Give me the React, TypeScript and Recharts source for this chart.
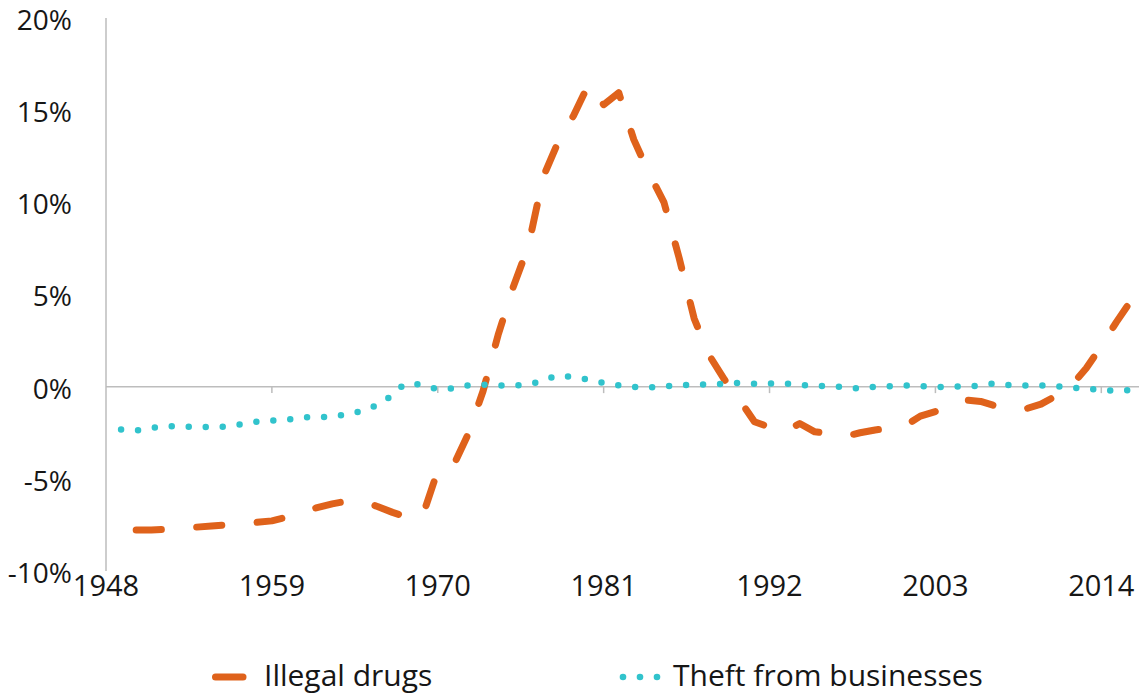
import React from "react";
import {
  LineChart,
  Line,
  XAxis,
  YAxis,
  ReferenceLine,
  Legend,
} from "recharts";

// years on the x axis (1948..2016)
const YEARS = [
  1948, 1949, 1950, 1951, 1952, 1953, 1954, 1955, 1956, 1957, 1958, 1959,
  1960, 1961, 1962, 1963, 1964, 1965, 1966, 1967, 1968, 1969, 1970, 1971,
  1972, 1973, 1974, 1975, 1976, 1977, 1978, 1979, 1980, 1981, 1982, 1983,
  1984, 1985, 1986, 1987, 1988, 1989, 1990, 1991, 1992, 1993, 1994, 1995,
  1996, 1997, 1998, 1999, 2000, 2001, 2002, 2003, 2004, 2005, 2006, 2007,
  2008, 2009, 2010, 2011, 2012, 2013, 2014, 2015, 2016,
];

// % values
const DRUGS = [
  null, null, -7.78, -7.78, -7.74, -7.68, -7.62, -7.56, -7.5, -7.43, -7.36, -7.28,
  -7.08, -6.82, -6.56, -6.36, -6.2, -6.24, -6.5, -6.82, -7.1, -7.0, -4.55, -4.35,
  -2.6, -0.25, 2.8, 5.4, 7.6, 11.4, 13.3, 14.7, 16.4, 15.3, 15.95, 13.4,
  11.6, 10.0, 7.0, 3.7, 1.7, 0.4, -0.7, -1.9, -2.2, -2.45, -2.0, -2.45,
  -2.55, -2.7, -2.5, -2.35, -2.25, -2.12, -1.6, -1.35, -0.95, -0.72, -0.8, -1.05,
  -1.25, -1.2, -0.95, -0.5, 0.05, 1.0, 2.2, 3.5, 4.7,
];

const THEFT = [
  null, -2.33, -2.37, -2.25, -2.14, -2.17, -2.17, -2.19, -2.15, -2.03, -1.9, -1.84,
  -1.8, -1.66, -1.67, -1.6, -1.5, -1.3, -0.98, -0.45, 0.16, 0.1, -0.12, -0.1,
  0.07, 0.1, 0.07, 0.06, 0.15, 0.3, 0.6, 0.5, 0.38, 0.2, 0.08, -0.02,
  -0.04, 0.02, 0.07, 0.1, 0.13, 0.15, 0.2, 0.16, 0.17, 0.16, 0.1, 0.05,
  0.02, -0.03, -0.1, 0.0, 0.03, 0.07, 0.03, -0.02, -0.01, 0.02, 0.06, 0.17,
  0.08, 0.07, 0.07, 0.03, -0.05, -0.12, -0.17, -0.22, -0.18,
];

const X_TICKS = [1948, 1959, 1970, 1981, 1992, 2003, 2014];
const Y_TICKS = [-10, -5, 0, 5, 10, 15, 20];

const DRUG_COLOR = "#DF621B";
const THEFT_COLOR = "#31C3CC";
const AXIS_COLOR = "#BDBDBD";
const TEXT_COLOR = "#161616";
const FONT = "'Open Sans', 'Noto Sans', sans-serif";

const data = YEARS.map((year, i) => ({
  year,
  drugs: DRUGS[i],
  theft: THEFT[i],
}));

function LegendContent({ payload }: any) {
  const items = payload || [];
  const slot = [{ sym: 212, text: 264 }, { sym: 623, text: 673 }];
  return (
    <svg width={1139} height={60} style={{ display: "block" }}>
      {items.map((it: any, i: number) => {
        const s = slot[i] || slot[0];
        const dotted = it.dataKey === "theft";
        return (
          <g key={it.value}>
            {dotted ? (
              [0, 17, 34].map((dx) => (
                <circle key={dx} cx={s.sym + dx} cy={42} r={3.3} fill={it.color} />
              ))
            ) : (
              <line
                x1={s.sym + 3.5}
                y1={42}
                x2={s.sym + 31}
                y2={42}
                stroke={it.color}
                strokeWidth={7}
                strokeLinecap="round"
              />
            )}
            <text x={s.text} y={51} fontSize={30} fontFamily={FONT} fill={TEXT_COLOR}>
              {it.value}
            </text>
          </g>
        );
      })}
    </svg>
  );
}

export default function App() {
  return (
    <div style={{ width: 1139, height: 695, fontFamily: FONT }}>
      <style>{"body{margin:0}"}</style>
      <LineChart
        width={1139}
        height={695}
        data={data}
        margin={{ top: 18, right: 0, left: 0, bottom: 24 }}
      >
        <XAxis
          dataKey="year"
          type="number"
          domain={[1948, 2016.5]}
          ticks={X_TICKS}
          axisLine={false}
          tickLine={false}
          tickSize={0}
          tickMargin={4}
          height={40}
          tick={{ fontSize: 29, fill: TEXT_COLOR, fontFamily: FONT }}
        />
        <YAxis
          domain={[-10, 20]}
          ticks={Y_TICKS}
          width={106}
          tickLine={false}
          tickSize={0}
          tickMargin={34}
          axisLine={{ stroke: AXIS_COLOR, strokeWidth: 1.5 }}
          tickFormatter={(v) => `${v}%`}
          tick={{ fontSize: 28, fill: TEXT_COLOR, fontFamily: FONT, dy: 2 }}
        />
        <ReferenceLine y={0} stroke={AXIS_COLOR} strokeWidth={1.5} />
        {X_TICKS.slice(1).map((yr) => (
          <ReferenceLine
            key={yr}
            segment={[
              { x: yr, y: 0 },
              { x: yr, y: -0.35 },
            ]}
            stroke={AXIS_COLOR}
            strokeWidth={1.5}
          />
        ))}
        <Line
          dataKey="drugs"
          name="Illegal drugs"
          type="linear"
          stroke={DRUG_COLOR}
          strokeWidth={7}
          strokeDasharray="25.2 35.4"
          strokeLinecap="round"
          strokeLinejoin="round"
          dot={false}
          activeDot={false}
          isAnimationActive={false}
        />
        <Line
          dataKey="theft"
          name="Theft from businesses"
          type="monotone"
          stroke={THEFT_COLOR}
          strokeWidth={6.5}
          strokeDasharray="0 17"
          strokeLinecap="round"
          dot={false}
          activeDot={false}
          isAnimationActive={false}
        />
        <Legend
          verticalAlign="bottom"
          content={<LegendContent />}
          wrapperStyle={{ left: 0, bottom: 0, width: 1139, height: 60 }}
        />
      </LineChart>
    </div>
  );
}
